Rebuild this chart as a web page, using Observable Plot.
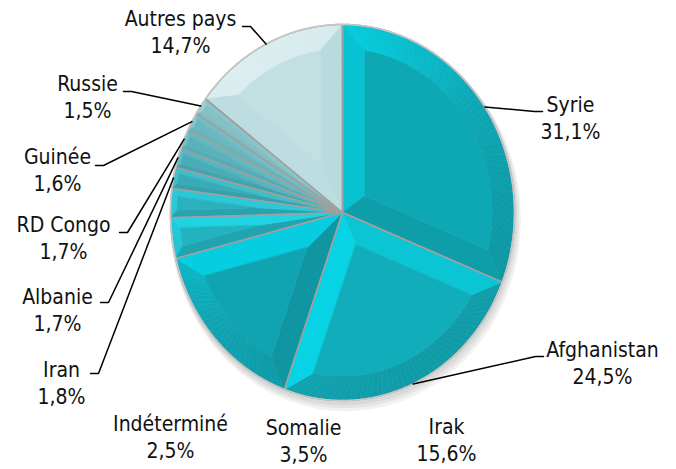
<!DOCTYPE html>
<html><head><meta charset="utf-8">
<script src="https://cdn.jsdelivr.net/npm/d3@7"></script>
<script src="https://cdn.jsdelivr.net/npm/@observablehq/plot@0.6"></script>
<style>html,body{margin:0;padding:0;background:#fff;}</style>
</head><body><div id="chart"></div>
<script>
// ---- data ----
const categories = ["Syrie","Afghanistan","Irak","Somalie","Indéterminé","Iran","Albanie","RD Congo","Guinée","Russie","Autres pays"];
const shares = [31.1,24.5,15.6,3.5,2.5,1.8,1.7,1.7,1.6,1.5,14.7];

// ---- styles / layout ----
const sliceColors = ["#0ea7b4","#11adba","#10a4b2","#23b3c0","#2bb0bd","#38abb7","#48adb7","#5ab1b9","#6bb7be","#84c0c5","#c2dfe2"];
const labelX = [570,602,446,303,170,61,57,63,57,87,180];
const labelY = [138,383,460,461,457,403,330,258,190,117,52];
const leaderEnd = [[542,111],[543,356],null,null,null,[90,373],[100,302],[119,232],[95,165],[123,91],[242,26]];
const CX = 342, CY = 212, RX = 172, RY = 188, BEVEL = 0.13;
const LIGHT = [-0.6,-0.8];

const fmt = v => d3.format(".1f")(v).replace(".", ",") + "%";
const arcs = d3.pie().sort(null).value(d => d)(shares);
const pt = (t, r) => [CX + RX * r * Math.sin(t), CY - RY * r * Math.cos(t)];
function shade(base, nx, ny) {
  const f = nx * LIGHT[0] + ny * LIGHT[1];
  const c = d3.hsl(base);
  c.l = Math.max(0, Math.min(0.95, c.l + (f > 0 ? 0.075 : 0.04) * f));
  if (f > 0) c.s = Math.min(1, c.s * (1 + 0.15 * f));
  return c.formatHex();
}

const facets = [];
let fid = 0;
function addFacet(points, color) {
  const id = fid++;
  points.forEach(([x, y]) => facets.push({id, x, y, color}));
}
const outlines = [];
arcs.forEach((a, i) => {
  const ts = a.startAngle, te = a.endAngle, tm = (ts + te) / 2, al = (te - ts) / 2;
  const base = sliceColors[i];
  const w = Math.min(BEVEL, 0.5 * Math.sin(al));
  const apexD = w / Math.sin(al);
  const rin = 1 - w;
  const phi = Math.asin(w / rin);
  const P = pt(tm, apexD);
  const O = [CX, CY];
  const n = Math.max(2, Math.ceil((te - ts) / (Math.PI / 90)));
  const outer = d3.range(n + 1).map(k => ts + (te - ts) * k / n);
  const inner = d3.range(n + 1).map(k => ts + phi + (te - ts - 2 * phi) * k / n);
  for (let k = 0; k < n; k++) {
    const t = (outer[k] + outer[k + 1]) / 2;
    addFacet([pt(outer[k], 1), pt(outer[k + 1], 1), pt(inner[k + 1], rin), pt(inner[k], rin)],
      shade(base, Math.sin(t), -Math.cos(t)));
  }
  addFacet([O, pt(ts, 1), pt(ts + phi, rin), P], shade(base, -Math.cos(ts), -Math.sin(ts)));
  addFacet([O, P, pt(te - phi, rin), pt(te, 1)], shade(base, Math.cos(te), Math.sin(te)));
  addFacet([P, ...inner.map(t => pt(t, rin))], base);
  [O, ...outer.map(t => pt(t, 1))].forEach(([x, y]) => outlines.push({id: i, x, y}));
});

const rim = d3.range(0, 361, 2).map(d => { const [x, y] = pt(d * Math.PI / 180, 1); return {x, y}; });
const shadow = [];
[[1,3,1.01],[2,5,1.015],[3,7,1.02]].forEach(([dx, dy, s], j) =>
  d3.range(0, 361, 3).forEach(d => { const [x, y] = pt(d * Math.PI / 180, s); shadow.push({id: j, x: x + dx, y: y + dy}); }));

const leaders = [];
arcs.forEach((a, i) => {
  const e = leaderEnd[i];
  if (!e) return;
  const tm = (a.startAngle + a.endAngle) / 2;
  const [rx, ry] = pt(tm, 1);
  const knee = [e[0] + (e[0] < CX ? 8 : -8), e[1]];
  [[rx, ry], knee, e].forEach(([x, y]) => leaders.push({id: i, x, y}));
});

const labels = categories.map((c, i) => ({x: labelX[i], y: labelY[i], text: c + "\n" + fmt(shares[i])}));

const chart = Plot.plot({
  width: 676, height: 469, margin: 0,
  x: {type: "linear", domain: [0, 676], range: [0, 676], axis: null},
  y: {type: "linear", domain: [0, 469], range: [0, 469], axis: null},
  color: {type: "identity"},
  style: {fontFamily: "'DejaVu Sans Condensed','DejaVu Sans',sans-serif", background: "#fff"},
  marks: [
    Plot.line(shadow, {x: "x", y: "y", z: "id", fill: "#000", fillOpacity: 0.05, stroke: null, curve: "linear-closed"}),
    Plot.line(facets, {x: "x", y: "y", z: "id", fill: "color", stroke: "color", strokeWidth: 0.6, curve: "linear-closed"}),
    Plot.line(outlines, {x: "x", y: "y", z: "id", stroke: "#a0a0a0", strokeWidth: 1.5, fill: "none", curve: "linear-closed"}),
    Plot.line(rim, {x: "x", y: "y", stroke: "#c8c8c8", strokeWidth: 1.5, fill: "none", curve: "linear-closed"}),
    Plot.line(leaders, {x: "x", y: "y", z: "id", stroke: "#000", strokeWidth: 1.5}),
    Plot.text(labels, {x: "x", y: "y", text: "text", lineAnchor: "bottom", lineHeight: 1.26, fontSize: 21, fill: "#111", textAnchor: "middle"})
  ]
});
document.getElementById("chart").appendChild(chart);
</script>
</body></html>
